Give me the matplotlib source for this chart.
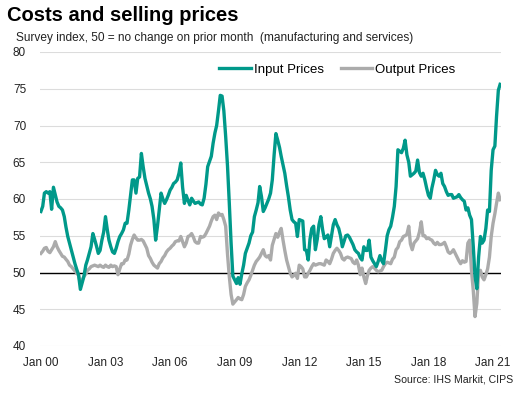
import matplotlib
matplotlib.use("Agg")
import matplotlib.pyplot as plt
import matplotlib.dates as mdates
import pandas as pd

plt.rcParams['font.family'] = ['Liberation Sans', 'DejaVu Sans']

# monthly survey readings, Jan 2000 - May 2021 (one line per year)
input_prices = [
    58.3, 59.0, 60.8, 61.0, 60.8, 61.0, 58.6, 61.6, 60.6, 59.6, 59.0, 58.8,  # 2000
    58.5, 57.6, 56.2, 54.9, 54.0, 53.1, 52.2, 51.2, 50.4, 49.7, 47.7, 48.6,  # 2001
    49.5, 51.0, 51.7, 52.6, 53.5, 55.3, 54.5, 53.6, 52.6, 53.0, 54.4, 55.5,  # 2002
    57.6, 55.8, 54.4, 53.5, 52.8, 52.6, 53.3, 54.2, 54.9, 55.3, 55.8, 56.7,  # 2003
    56.7, 58.5, 60.5, 62.6, 62.6, 60.8, 62.8, 63.0, 66.2, 64.4, 62.8, 61.8,  # 2004
    60.8, 60.0, 59.0, 57.2, 54.4, 56.3, 58.5, 60.8, 60.0, 59.4, 59.9, 60.5,  # 2005
    61.2, 61.6, 62.1, 62.3, 62.6, 63.5, 64.9, 61.6, 59.4, 60.5, 59.8, 59.2,  # 2006
    60.1, 59.7, 59.4, 59.5, 59.6, 59.3, 59.2, 60.1, 62.0, 64.4, 65.1, 65.8,  # 2007
    67.6, 69.0, 70.0, 72.0, 74.1, 74.0, 72.0, 68.5, 64.5, 59.5, 54.0, 49.5,  # 2008
    49.0, 48.5, 49.3, 48.4, 49.8, 51.0, 52.6, 53.3, 54.0, 55.0, 55.5, 57.6,  # 2009
    58.5, 59.5, 61.7, 60.3, 58.3, 58.8, 59.4, 60.0, 60.8, 62.6, 66.0, 68.9,  # 2010
    68.0, 67.0, 65.8, 64.6, 63.5, 61.8, 60.3, 58.5, 57.2, 56.9, 56.7, 54.9,  # 2011
    57.2, 57.1, 57.0, 53.1, 53.0, 51.7, 54.5, 56.0, 56.3, 53.1, 54.5, 56.5,  # 2012
    57.6, 55.8, 54.6, 54.8, 55.1, 53.5, 55.0, 56.5, 57.2, 56.5, 56.0, 55.0,  # 2013
    53.5, 54.3, 55.0, 55.1, 54.8, 54.3, 53.8, 53.1, 52.8, 52.6, 52.0, 51.7,  # 2014
    53.5, 53.0, 53.0, 54.4, 52.1, 51.6, 51.2, 50.8, 51.5, 52.3, 51.6, 51.2,  # 2015
    53.0, 55.0, 55.8, 56.3, 57.5, 59.0, 61.7, 66.7, 66.5, 66.3, 66.9, 68.0,  # 2016
    66.0, 65.0, 63.1, 63.3, 63.5, 63.8, 65.3, 63.6, 63.1, 63.5, 62.6, 61.5,  # 2017
    60.5, 60.1, 61.5, 62.6, 63.9, 63.3, 63.1, 63.5, 62.1, 61.7, 61.0, 60.5,  # 2018
    60.6, 60.6, 60.1, 60.2, 60.3, 60.6, 60.2, 59.9, 59.7, 58.5, 58.8, 57.8,  # 2019
    57.2, 53.5, 49.5, 47.8, 52.1, 54.9, 54.0, 54.4, 56.0, 58.5, 58.3, 63.9,  # 2020
    66.7, 67.2, 71.2, 74.8, 75.6,                                            # 2021
]

output_prices = [
    52.6, 52.9, 53.3, 53.4, 52.9, 52.7, 53.1, 53.5, 54.2, 53.5, 53.0, 52.6,  # 2000
    52.2, 52.1, 51.8, 51.5, 51.0, 50.8, 50.5, 50.2, 49.9, 49.6, 48.5, 49.0,  # 2001
    49.5, 49.8, 50.3, 50.5, 50.8, 50.9, 51.0, 50.9, 50.8, 51.0, 50.8, 50.7,  # 2002
    51.0, 50.8, 50.7, 51.0, 50.8, 50.9, 50.8, 49.7, 50.5, 51.2, 51.2, 51.7,  # 2003
    51.7, 52.5, 53.7, 54.5, 55.1, 54.7, 54.4, 54.4, 54.5, 54.3, 53.8, 53.3,  # 2004
    52.3, 51.9, 51.4, 51.0, 50.8, 50.6, 51.2, 51.5, 52.0, 52.3, 52.8, 53.1,  # 2005
    53.3, 53.6, 53.8, 54.2, 54.3, 54.3, 54.9, 54.2, 53.5, 54.0, 54.9, 55.0,  # 2006
    55.3, 54.8, 54.2, 54.0, 54.0, 54.9, 54.8, 54.9, 55.3, 55.8, 56.3, 57.0,  # 2007
    57.6, 57.8, 57.2, 58.1, 57.8, 57.9, 57.2, 56.3, 52.5, 49.5, 47.0, 45.7,  # 2008
    46.0, 46.3, 46.6, 46.4, 46.3, 47.0, 48.1, 48.6, 49.0, 49.6, 50.3, 51.0,  # 2009
    51.5, 51.8, 52.1, 52.6, 53.1, 52.3, 52.1, 52.3, 51.7, 53.7, 54.5, 55.3,  # 2010
    54.8, 55.5, 56.0, 54.4, 53.0, 51.7, 50.8, 49.9, 49.4, 49.6, 49.9, 49.2,  # 2011
    51.0, 50.8, 50.5, 49.4, 49.4, 49.9, 50.3, 50.8, 51.2, 51.0, 51.1, 51.2,  # 2012
    51.2, 51.1, 51.0, 51.7, 51.5, 51.2, 51.8, 52.6, 53.0, 53.3, 53.0, 52.6,  # 2013
    51.9, 51.7, 52.0, 52.1, 52.0, 51.9, 51.4, 51.2, 51.7, 51.0, 49.7, 50.6,  # 2014
    49.4, 48.5, 49.5, 50.3, 50.6, 50.8, 50.6, 50.3, 50.1, 50.2, 50.3, 50.8,  # 2015
    51.2, 51.4, 51.3, 51.2, 51.8, 52.1, 53.1, 53.4, 54.2, 54.4, 54.9, 55.0,  # 2016
    55.2, 56.3, 53.9, 53.1, 54.0, 54.3, 54.6, 55.5, 56.9, 55.0, 55.0, 54.6,  # 2017
    54.7, 54.5, 54.4, 54.0, 53.8, 54.1, 53.8, 53.8, 53.9, 54.1, 53.5, 52.8,  # 2018
    52.6, 52.8, 53.1, 52.6, 52.1, 51.6, 51.2, 51.6, 51.4, 51.5, 54.0, 54.4,  # 2019
    50.3, 47.5, 44.0, 45.8, 50.0, 50.3, 49.4, 49.0, 49.7, 50.5, 52.1, 54.9,  # 2020
    56.7, 58.0, 59.4, 60.8, 59.9,                                            # 2021
]

series_names = ['Input Prices', 'Output Prices']
y_ticks = [40, 45, 50, 55, 60, 65, 70, 75, 80]
x_tick_years = [2000, 2003, 2006, 2009, 2012, 2015, 2018, 2021]

teal = '#00998a'
grey = '#ababab'

dates_in = pd.date_range('2000-01-01', periods=len(input_prices), freq='MS')
dates_out = pd.date_range('2000-01-01', periods=len(output_prices), freq='MS')

fig = plt.figure(figsize=(5.28, 3.97), dpi=100)
ax = fig.add_axes([40 / 528, 1 - 346 / 397, 461 / 528, 294 / 397])

for y in y_ticks:
    ax.axhline(y, color='#dcdcdc', lw=0.8, zorder=0)
ax.axhline(50, color='black', lw=1.0, zorder=1)

ax.plot(dates_out, output_prices, color=grey, lw=2.4, label=series_names[1], zorder=2)
ax.plot(dates_in, input_prices, color=teal, lw=2.4, label=series_names[0], zorder=3)

ax.set_ylim(40, 80)
ax.set_yticks(y_ticks)
ax.set_xlim(dates_in[0] - pd.Timedelta(days=15), dates_in[-1] + pd.Timedelta(days=15))
ax.set_xticks([pd.Timestamp(f'{yr}-01-01') for yr in x_tick_years])
ax.xaxis.set_major_formatter(mdates.DateFormatter('%b %y'))
ax.tick_params(axis='both', length=0, labelsize=8.5, colors='#222222')
ax.tick_params(axis='y', pad=10)
ax.tick_params(axis='x', pad=8)
for s in ax.spines.values():
    s.set_visible(False)

handles, labels = ax.get_legend_handles_labels()
ax.legend(handles[::-1], labels[::-1], loc='center', bbox_to_anchor=(0.645, 0.939),
          ncol=2, frameon=False, fontsize=9.5, handlelength=2.4,
          handletextpad=0.2, columnspacing=1.3)

fig.text(0.013, 0.96, 'Costs and selling prices', fontsize=14.5,
         fontweight='bold', va='center', ha='left')
fig.text(0.03, 0.904, 'Survey index, 50 = no change on prior month  (manufacturing and services)',
         fontsize=8.6, va='center', ha='left', color='#222222')
fig.text(0.972, 0.043, 'Source: IHS Markit, CIPS', fontsize=7.6,
         va='center', ha='right', color='#222222')

fig.savefig('out.png', dpi=100)
